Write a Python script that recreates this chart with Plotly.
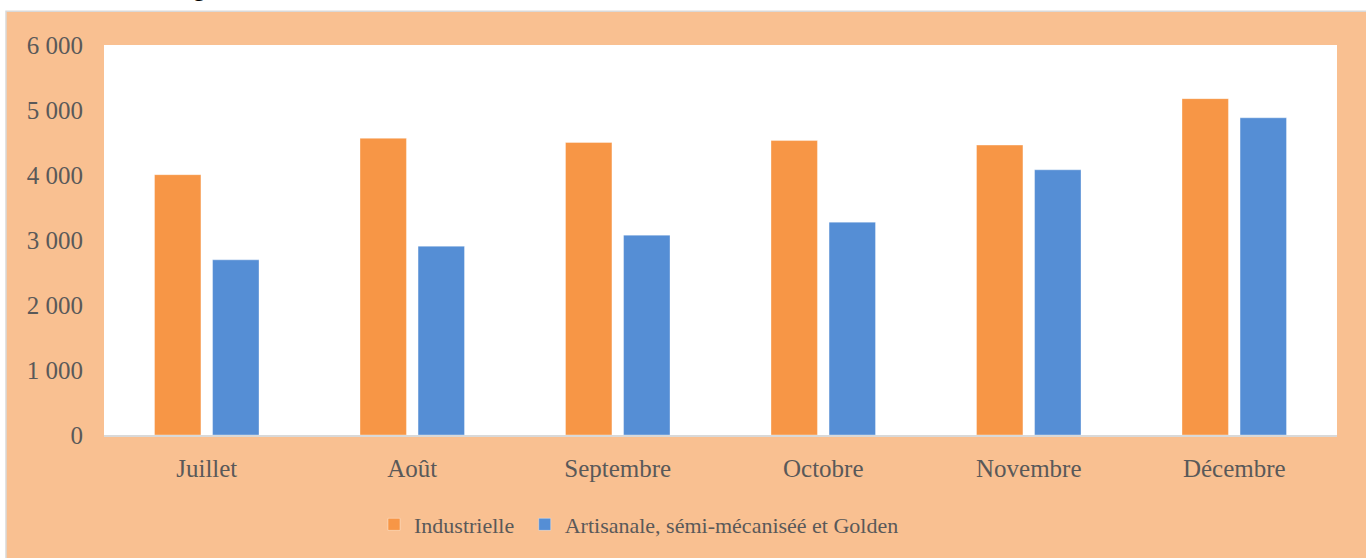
import plotly.graph_objects as go

# data
mois = ["Juillet", "Août", "Septembre", "Octobre", "Novembre", "Décembre"]
industrielle = [4005, 4565, 4500, 4530, 4460, 5175]
artisanale = [2695, 2905, 3075, 3275, 4080, 4880]
y_ticks = [0, 1000, 2000, 3000, 4000, 5000, 6000]

W, H = 1366, 558
ml, mr, mt, mb = 104, 29, 45, 121
pw, ph = W - ml - mr, H - mt - mb

peach = "#F9C091"
grey_txt = "#595959"
font_main = "Liberation Serif"


def px_x(p):
    return (p - ml) / pw


def px_y(p):
    return (H - mb - p) / ph


fig = go.Figure()
fig.add_trace(go.Bar(
    x=mois, y=industrielle, name="Industrielle\u00a0",
    marker=dict(color="#F79646", line=dict(color="rgba(255,255,255,0.35)", width=1)),
))
fig.add_trace(go.Bar(
    x=mois, y=artisanale, name="Artisanale, sémi-mécaniséé et Golden",
    marker=dict(color="#558ED5", line=dict(color="rgba(255,255,255,0.35)", width=1)),
))

fig.update_layout(
    width=W, height=H,
    margin=dict(l=ml, r=mr, t=mt, b=mb, pad=0),
    paper_bgcolor="white",
    plot_bgcolor="white",
    barmode="group",
    bargap=0.435,
    bargroupgap=0.2,
    separators=", ",
    font=dict(family=font_main, color=grey_txt, size=25),
    showlegend=True,
    legend=dict(
        orientation="h",
        x=px_x(374), xanchor="left",
        y=px_y(527), yanchor="middle",
        font=dict(size=22, color=grey_txt, family=font_main),
        bgcolor="rgba(0,0,0,0)",
        itemclick=False,
    ),
    xaxis=dict(
        showline=True, linecolor="#D9D9D9", linewidth=2,
        ticks="", showgrid=False, zeroline=False,
        tickfont=dict(size=25, color=grey_txt, family=font_main),
        ticklabelstandoff=10,
    ),
    yaxis=dict(
        range=[0, 6000], tickvals=y_ticks, tickformat=",",
        showgrid=False, zeroline=False, showline=False, ticks="",
        tickfont=dict(size=25, color=grey_txt, family=font_main),
        ticklabelstandoff=20,
    ),
    shapes=[
        # peach chart area with thin grey frame
        dict(type="rect", xref="paper", yref="paper", layer="below",
             x0=px_x(6), x1=px_x(W + 10), y0=px_y(H + 10), y1=px_y(11),
             fillcolor=peach, line=dict(color="#D9D9D9", width=1.5)),
        # white plot area
        dict(type="rect", xref="paper", yref="paper", layer="below",
             x0=0, x1=1, y0=0, y1=1, fillcolor="white", line=dict(width=0)),
    ],
    annotations=[
        # tail of the cut-off title above the chart
        dict(text="g", xref="paper", yref="paper", showarrow=False,
             x=px_x(199), y=px_y(3), xanchor="center", yanchor="bottom",
             font=dict(family="Liberation Sans", size=30, color="black")),
    ],
)

# drop the default page margin so the figure fills the window exactly
fig.write_html("out.html", config={"displayModeBar": False},
               post_script="document.body.style.margin='0';")
